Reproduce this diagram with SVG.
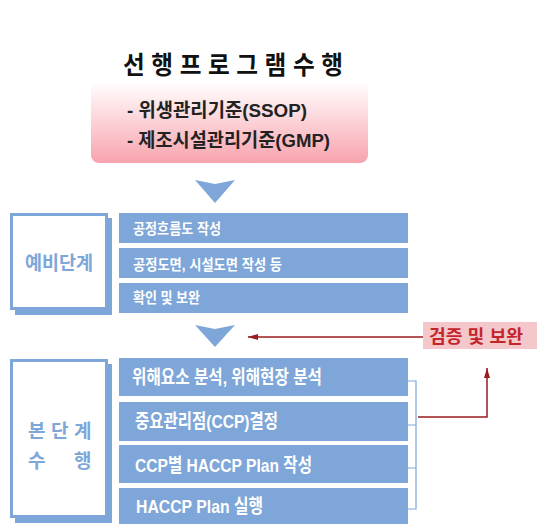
<svg xmlns="http://www.w3.org/2000/svg" width="550" height="531" viewBox="0 0 550 531">
<defs>
<linearGradient id="pinkGrad" x1="0" y1="0" x2="0" y2="1">
<stop offset="0" stop-color="#ffffff"/>
<stop offset="0.33" stop-color="#ffffff"/>
<stop offset="1" stop-color="#f8a3ad"/>
</linearGradient>
<marker id="redArrow" viewBox="0 0 10 6" refX="10" refY="3" markerWidth="10" markerHeight="6" markerUnits="userSpaceOnUse" orient="auto">
<path d="M0,0 L10,3 L0,6 Z" fill="#9b1b1f"/>
</marker>
</defs>
<style>
.k{font-family:"Liberation Sans","Noto Sans CJK KR",sans-serif;font-weight:bold}
.bar{fill:#7ea6d8}
.bt{fill:#ffffff;font-size:14.5px}
.bt2{fill:#ffffff;font-size:19px}
.st{fill:#7ea6d8;font-size:19px}
.shadow{fill:#7ea6d8}
.front{fill:#ffffff;stroke:#7ea6d8;stroke-width:3}
.tri{fill:#7ea6d8}
.red{stroke:#9b1b1f;stroke-width:1.5;fill:none}
.brk{stroke:#7ea6d8;stroke-width:1.2;fill:none}
</style>
<rect width="550" height="531" fill="#ffffff"/>

<g id="prereq">
<rect x="91" y="42" width="277" height="121" rx="8" ry="8" fill="url(#pinkGrad)"/>
<text class="k" x="123" y="74" font-size="25" fill="#111111" textLength="220" lengthAdjust="spacingAndGlyphs">선 행 프 로 그 램 수 행</text>
<text class="k" x="127" y="117" font-size="19" fill="#222222" textLength="180" lengthAdjust="spacingAndGlyphs">- 위생관리기준(SSOP)</text>
<text class="k" x="127" y="147" font-size="19" fill="#222222" textLength="203" lengthAdjust="spacingAndGlyphs">- 제조시설관리기준(GMP)</text>
</g>

<g id="arrow1">
<path class="tri" d="M195,180 L215,184 L235,180 L215,203 Z"/>
</g>

<g id="prelim">
<rect class="shadow" x="15" y="218" width="97" height="97"/>
<rect class="front" x="11.5" y="214.5" width="95" height="94"/>
<text class="k st" x="25" y="270" font-size="20" textLength="68" lengthAdjust="spacingAndGlyphs">예비단계</text>
</g>

<g id="p1">
<rect class="bar" x="119" y="213" width="289" height="30"/>
<text class="k bt" x="133" y="234" textLength="88" lengthAdjust="spacingAndGlyphs">공정흐름도 작성</text>
</g>
<g id="p2">
<rect class="bar" x="119" y="248" width="289" height="30"/>
<text class="k bt" x="133" y="270" textLength="149" lengthAdjust="spacingAndGlyphs">공정도면, 시설도면 작성 등</text>
</g>
<g id="p3">
<rect class="bar" x="119" y="283" width="289" height="30"/>
<text class="k bt" x="133" y="303" textLength="67" lengthAdjust="spacingAndGlyphs">확인 및 보완</text>
</g>

<g id="arrow2">
<path class="tri" d="M195,325 L215,329 L235,325 L215,347 Z"/>
</g>

<g id="main">
<rect class="shadow" x="15" y="364" width="97" height="159"/>
<rect class="front" x="11.5" y="360.5" width="95" height="156"/>
<text class="k st" x="28" y="438">본</text>
<text class="k st" x="51" y="438">단</text>
<text class="k st" x="74" y="438">계</text>
<text class="k st" x="28" y="468">수</text>
<text class="k st" x="74" y="468">행</text>
</g>

<g id="m1">
<rect class="bar" x="119" y="358" width="289" height="38"/>
<text class="k bt2" x="132" y="384" textLength="190" lengthAdjust="spacingAndGlyphs">위해요소 분석, 위해현장 분석</text>
</g>
<g id="m2">
<rect class="bar" x="119" y="402" width="289" height="39"/>
<text class="k bt2" x="135" y="428" textLength="143" lengthAdjust="spacingAndGlyphs">중요관리점(CCP)결정</text>
</g>
<g id="m3">
<rect class="bar" x="119" y="445" width="289" height="38"/>
<text class="k bt2" x="135" y="472" textLength="177" lengthAdjust="spacingAndGlyphs">CCP별 HACCP Plan 작성</text>
</g>
<g id="m4">
<rect class="bar" x="119" y="488" width="289" height="36"/>
<text class="k bt2" x="136" y="513" textLength="127" lengthAdjust="spacingAndGlyphs">HACCP Plan 실행</text>
</g>

<g id="verify">
<rect x="423" y="322" width="114" height="27" fill="#f4c8cb"/>
<text class="k" x="429" y="343" font-size="18" fill="#c4252c" textLength="94" lengthAdjust="spacingAndGlyphs">검증 및 보완</text>
</g>

<g id="connectors">
<path class="brk" d="M408,381 H416 V509 H408 M408,425 H416 M408,468 H416"/>
<path class="red" d="M418,417 H487 V368" marker-end="url(#redArrow)"/>
<path class="red" d="M423,337 H248" marker-end="url(#redArrow)"/>
</g>
</svg>
